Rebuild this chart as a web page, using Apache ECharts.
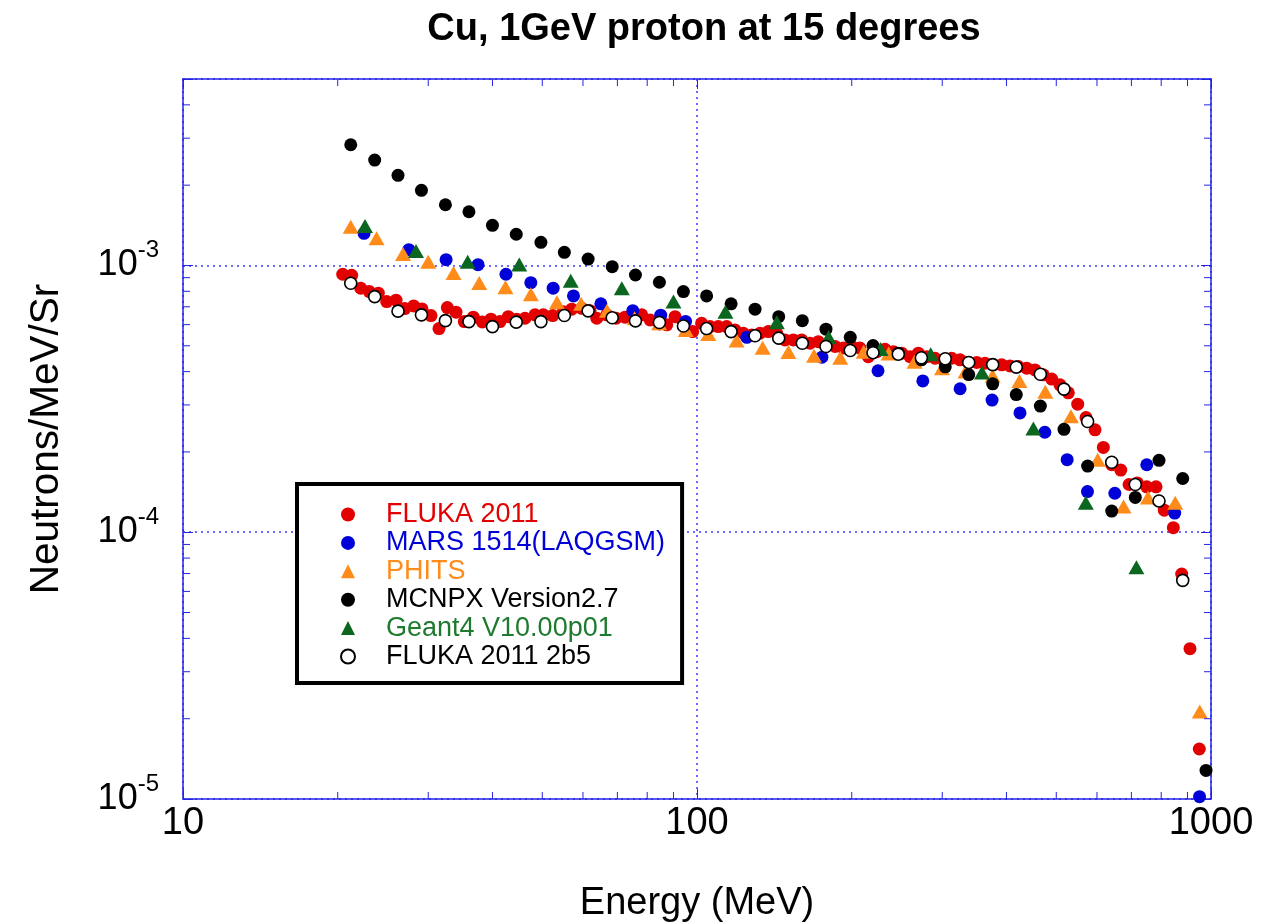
<!DOCTYPE html>
<html><head><meta charset="utf-8">
<script src="https://cdn.jsdelivr.net/npm/echarts@6/dist/echarts.min.js"></script>
<style>html,body{margin:0;padding:0;background:#fff}#c{width:1276px;height:923px}</style>
</head><body><div id="c"></div>
<script>
const titleText = 'Cu, 1GeV proton at 15 degrees';
const xName = 'Energy (MeV)';
const yName = 'Neutrons/MeV/Sr';
const seriesNames = ['FLUKA 2011', 'MARS 1514(LAQGSM)', 'PHITS', 'MCNPX Version2.7', 'Geant4 V10.00p01', 'FLUKA 2011 2b5'];

// FLUKA 2011
const flukaE = [20.45,21.29,22.17,23.04,23.99,24.91,25.97,27.00,28.11,29.17,
  30.37,31.48,32.68,33.97,35.26,36.71,38.22,39.73,41.37,42.94,
  44.59,46.28,48.40,50.23,52.40,54.94,57.05,59.67,61.93,63.83,
  66.74,69.58,72.44,75.19,78.07,81.03,84.48,87.33,90.63,94.06,
  98.08,102.1,106.0,110.0,114.2,118.6,123.1,127.8,132.6,137.6,
  142.9,148.3,153.9,159.8,165.9,172.2,178.8,185.6,192.6,200.0,
  207.5,215.4,223.7,232.2,241.0,250.2,259.7,269.5,279.9,290.4,
  301.5,313.0,324.9,337.2,350.2,363.4,377.2,391.6,406.4,421.8,
  437.9,454.5,471.7,489.8,508.3,527.7,550.4,571.3,594.8,617.4,
  641.1,667.5,692.8,718.9,749.8,781.7,811.2,844.7,877.0,910.2,949.0];
const flukaV = [9.27e-4,9.19e-4,8.22e-4,7.98e-4,7.87e-4,7.32e-4,7.41e-4,6.89e-4,7.05e-4,6.87e-4,
  6.49e-4,5.80e-4,6.95e-4,6.68e-4,6.16e-4,6.40e-4,6.14e-4,6.29e-4,6.16e-4,6.43e-4,
  6.29e-4,6.34e-4,6.53e-4,6.53e-4,6.49e-4,6.71e-4,6.86e-4,6.91e-4,6.77e-4,6.34e-4,
  6.53e-4,6.34e-4,6.40e-4,6.53e-4,6.53e-4,6.25e-4,6.04e-4,5.99e-4,6.43e-4,6.07e-4,
  5.65e-4,6.07e-4,5.90e-4,5.90e-4,5.90e-4,5.73e-4,5.57e-4,5.49e-4,5.57e-4,5.65e-4,
  5.57e-4,5.26e-4,5.26e-4,5.26e-4,5.11e-4,5.18e-4,5.04e-4,4.97e-4,4.90e-4,4.97e-4,
  4.90e-4,4.55e-4,4.75e-4,4.85e-4,4.75e-4,4.69e-4,4.55e-4,4.69e-4,4.55e-4,4.49e-4,
  4.43e-4,4.49e-4,4.43e-4,4.33e-4,4.33e-4,4.30e-4,4.24e-4,4.24e-4,4.20e-4,4.18e-4,
  4.12e-4,4.06e-4,3.89e-4,3.75e-4,3.57e-4,3.33e-4,3.02e-4,2.69e-4,2.42e-4,2.08e-4,
  1.79e-4,1.71e-4,1.51e-4,1.53e-4,1.48e-4,1.48e-4,1.21e-4,1.04e-4,6.97e-5,3.66e-5,1.54e-5];

// MARS 1514(LAQGSM)
const marsE = [22.5,27.5,32.5,37.5,42.5,47.5,52.5,57.5,65,75,85,95,125,175,225,275,325,375,425,475,525,575,650,750,850,950];
const marsV = [1.32e-3,1.146e-3,1.051e-3,1.007e-3,9.27e-4,8.62e-4,8.22e-4,7.69e-4,7.18e-4,6.77e-4,6.51e-4,6.17e-4,5.38e-4,
  4.53e-4,4.03e-4,3.69e-4,3.45e-4,3.13e-4,2.80e-4,2.37e-4,1.87e-4,1.42e-4,1.40e-4,1.79e-4,1.18e-4,1.02e-5];

// PHITS
const phitsE = [21.2,23.8,26.8,30.0,33.6,37.7,42.4,47.5,53.4,59.5,66.8,75.6,84.4,95.1,105.2,119.4,134.2,150.6,168.9,190,
  211,236,265,299.7,333,376,424,476,534,602,676,754,852,951];
const phitsV = [1.397e-3,1.264e-3,1.104e-3,1.033e-3,9.37e-4,8.60e-4,8.29e-4,7.80e-4,7.28e-4,7.18e-4,6.77e-4,6.34e-4,6.07e-4,
  5.73e-4,5.53e-4,5.23e-4,4.92e-4,4.74e-4,4.59e-4,4.51e-4,4.75e-4,4.68e-4,4.36e-4,4.12e-4,4.00e-4,3.86e-4,3.69e-4,3.36e-4,
  2.72e-4,1.87e-4,1.25e-4,1.35e-4,1.29e-4,2.13e-5];

// MCNPX Version2.7
const mcnpxE = [21.2,23.6,26.2,29.1,32.4,36.0,40.0,44.5,49.7,55.2,61.4,68.4,75.9,84.5,94.1,104.4,116.5,129.7,144.2,160.3,
  178.2,198.7,220.0,246.4,273.2,304.1,337.8,376.1,418.0,465.6,517.6,575.4,641.0,712.4,792.2,881.0,977.9];
const mcnpxV = [2.835e-3,2.484e-3,2.177e-3,1.912e-3,1.689e-3,1.590e-3,1.414e-3,1.309e-3,1.221e-3,1.120e-3,1.057e-3,9.90e-4,
  9.21e-4,8.65e-4,7.98e-4,7.69e-4,7.18e-4,6.86e-4,6.43e-4,6.21e-4,5.77e-4,5.38e-4,5.01e-4,4.69e-4,4.43e-4,4.17e-4,3.90e-4,
  3.60e-4,3.28e-4,2.97e-4,2.43e-4,1.77e-4,1.20e-4,1.35e-4,1.86e-4,1.59e-4,1.28e-5];

// Geant4 V10.00p01
const geantE = [22.6,28.4,35.8,45.1,56.8,71.4,90.0,113.6,143.0,180.3,227.6,284.9,358.5,451.3,570.7,716];
const geantV = [1.406e-3,1.133e-3,1.033e-3,1.009e-3,8.77e-4,8.22e-4,7.32e-4,6.71e-4,6.13e-4,5.38e-4,4.86e-4,4.65e-4,
  3.97e-4,2.45e-4,1.29e-4,7.39e-5];

// FLUKA 2011 2b5
const fluka2E = [21.2,23.6,26.2,29.1,32.4,36.0,40.0,44.5,49.7,55.2,61.4,68.4,75.9,84.5,94.1,104.4,116.5,129.7,144.2,160.3,
  178.2,198.7,220.0,246.4,273.2,304.1,337.8,376.1,418.0,465.6,517.6,575.4,641.0,712.4,792.2,881.0];
const fluka2V = [8.58e-4,7.64e-4,6.74e-4,6.53e-4,6.21e-4,6.16e-4,5.90e-4,6.13e-4,6.16e-4,6.49e-4,6.76e-4,6.37e-4,6.20e-4,
  6.11e-4,5.93e-4,5.80e-4,5.65e-4,5.45e-4,5.34e-4,5.11e-4,4.97e-4,4.80e-4,4.71e-4,4.65e-4,4.51e-4,4.47e-4,4.33e-4,4.25e-4,
  4.16e-4,3.91e-4,3.44e-4,2.60e-4,1.83e-4,1.51e-4,1.31e-4,6.60e-5];

// axis ticks
const xMin = 10, xMax = 1000, yMin = 1e-5, yMax = 5e-3;
const xMinorTicks = [20,30,40,50,60,70,80,90,200,300,400,500,600,700,800,900];
const yMinorTicks = [2e-5,3e-5,4e-5,5e-5,6e-5,7e-5,8e-5,9e-5,2e-4,3e-4,4e-4,5e-4,6e-4,7e-4,8e-4,9e-4,2e-3,3e-3,4e-3];

const FONT = '"Liberation Sans", Arial, Helvetica, sans-serif';
const frameColor = '#2323e6';
const gridColor = '#3a3aff';
const markColors = ['#e30000', '#0000d8', '#ff8c1a', '#000000', '#0b6620', '#ffffff'];
const textColors = ['#e30000', '#0000d8', '#ff8c1a', '#000000', '#1e7a2e', '#000000'];
const icons = ['circle', 'circle', 'triangle', 'circle', 'triangle', 'circle'];

const pairs = (E, V) => E.map((e, i) => [e, V[i]]);
const isPow10 = v => { const l = Math.log10(v); return Math.abs(l - Math.round(l)) < 1e-6; };

const plotLeft = 183, plotRight = 1211, plotTop = 79, plotBottom = 799;
const chartW = 1276, chartH = 923;
const titleSize = 38;

const mctx = document.createElement('canvas').getContext('2d');
mctx.font = 'bold ' + titleSize + 'px ' + FONT;
const titleW = mctx.measureText(titleText).width;

const chart = echarts.init(document.getElementById('c'));

function frameAxis(extra) {
  return Object.assign({
    type: 'log', logBase: 10,
    axisLine: { show: true, onZero: false, lineStyle: { color: frameColor, width: 1.5 } },
    axisTick: { show: true, inside: true, length: 10, lineStyle: { color: frameColor, width: 1 } },
    splitLine: { show: false },
    minorTick: { show: false },
    axisLabel: { show: false }
  }, extra);
}

const xMinorSeries = {
  type: 'custom', name: 'x-minor', silent: true, clip: false, z: 4,
  xAxisIndex: 0, yAxisIndex: 0,
  data: xMinorTicks.map(v => [v, yMin]),
  renderItem: (params, api) => {
    const cs = params.coordSys;
    const x = api.coord([api.value(0), api.value(1)])[0];
    const len = 7;
    return { type: 'group', children: [
      { type: 'line', shape: { x1: x, y1: cs.y + cs.height, x2: x, y2: cs.y + cs.height - len }, style: { stroke: frameColor, lineWidth: 1 } },
      { type: 'line', shape: { x1: x, y1: cs.y, x2: x, y2: cs.y + len }, style: { stroke: frameColor, lineWidth: 1 } }
    ] };
  }
};
const yMinorSeries = {
  type: 'custom', name: 'y-minor', silent: true, clip: false, z: 4,
  xAxisIndex: 0, yAxisIndex: 0,
  data: yMinorTicks.map(v => [xMin, v]),
  renderItem: (params, api) => {
    const cs = params.coordSys;
    const y = api.coord([api.value(0), api.value(1)])[1];
    const len = 7;
    return { type: 'group', children: [
      { type: 'line', shape: { x1: cs.x, y1: y, x2: cs.x + len, y2: y }, style: { stroke: frameColor, lineWidth: 1 } },
      { type: 'line', shape: { x1: cs.x + cs.width, y1: y, x2: cs.x + cs.width - len, y2: y }, style: { stroke: frameColor, lineWidth: 1 } }
    ] };
  }
};

const dataSets = [[flukaE, flukaV], [marsE, marsV], [phitsE, phitsV], [mcnpxE, mcnpxV], [geantE, geantV], [fluka2E, fluka2V]];
const scatterSeries = dataSets.map((d, i) => {
  const tri = icons[i] === 'triangle';
  const s = {
    name: seriesNames[i], type: 'scatter', clip: false,
    data: pairs(d[0], d[1]),
    symbol: icons[i],
    symbolSize: tri ? [16, 14] : (i === 5 ? 12 : 13),
    itemStyle: { color: markColors[i], opacity: 1 },
    emphasis: { disabled: true },
    z: 3
  };
  if (i === 5) s.itemStyle = { color: '#ffffff', borderColor: '#000000', borderWidth: 1.6, opacity: 1 };
  return s;
});

const option = {
  animation: false,
  backgroundColor: '#ffffff',
  title: {
    text: titleText,
    left: (plotLeft + plotRight) / 2 + 2 - titleW / 2,
    top: 6,
    textStyle: { fontSize: titleSize, fontWeight: 'bold', color: '#000', fontFamily: FONT }
  },
  grid: { left: plotLeft, right: chartW - plotRight, top: plotTop, bottom: chartH - plotBottom,
    containLabel: false, outerBoundsMode: 'none' },
  legend: {
    data: seriesNames.map((n, i) => ({ name: n, icon: icons[i], textStyle: { color: textColors[i] } })),
    orient: 'vertical',
    left: 297, top: 484,
    padding: [17, 17, 13, 43],
    itemWidth: 14, itemHeight: 14, itemGap: 1.4,
    borderColor: '#000', borderWidth: 4, borderRadius: 0,
    backgroundColor: '#ffffff',
    selectedMode: false,
    textStyle: { fontSize: 27, fontFamily: FONT, lineHeight: 27, padding: [0, 0, 0, 26] },
    z: 10
  },
  xAxis: [
    frameAxis({
      position: 'bottom', min: xMin, max: xMax,
      axisLabel: { show: true, color: '#000', fontSize: 38, fontFamily: FONT, margin: 6,
        formatter: v => isPow10(v) ? String(Math.round(v)) : '' },
      splitLine: { show: true, lineStyle: { color: gridColor, type: [2, 4], width: 1.5 } },
      name: xName, nameLocation: 'middle', nameGap: 86,
      nameTextStyle: { fontSize: 38, color: '#000', fontFamily: FONT }
    }),
    frameAxis({ position: 'top', min: xMin, max: xMax })
  ],
  yAxis: [
    frameAxis({
      position: 'left', min: yMin, max: yMax,
      axisLabel: { show: true, color: '#000', fontFamily: FONT, margin: 24,
        formatter: v => isPow10(v) ? '{b|10}{s|' + Math.round(Math.log10(v)) + '}' : '',
        rich: {
          b: { fontSize: 36, fontFamily: FONT, color: '#000' },
          s: { fontSize: 24, fontFamily: FONT, color: '#000', padding: [0, 0, 30, 0] }
        } },
      splitLine: { show: true, lineStyle: { color: gridColor, type: [2, 4], width: 1.5 } },
      name: yName, nameLocation: 'middle', nameGap: 116,
      nameTextStyle: { fontSize: 40.5, color: '#000', fontFamily: FONT }
    }),
    frameAxis({ position: 'right', min: yMin, max: yMax })
  ],
  series: [xMinorSeries, yMinorSeries].concat(scatterSeries)
};
chart.setOption(option);
</script>
</body></html>
